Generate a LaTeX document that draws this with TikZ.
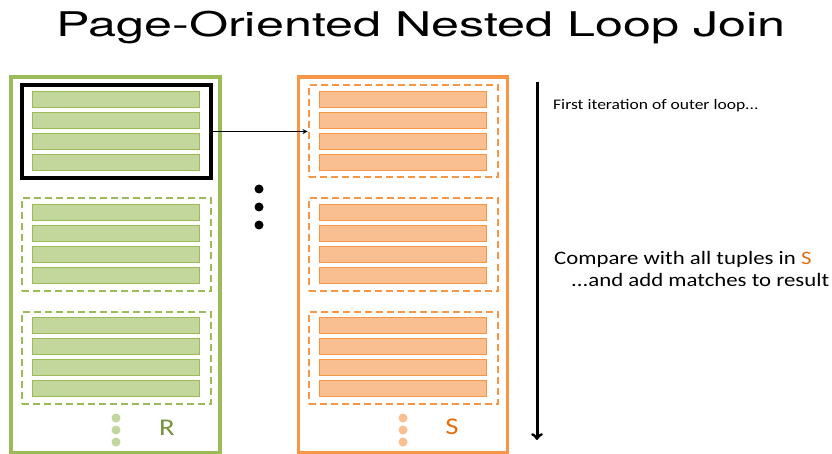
\documentclass[tikz,border=0pt]{standalone}
\usepackage{fontspec}
\setmainfont{Carlito}
\newfontfamily\titlefont[FakeStretch=1.48]{TeX Gyre Heros}
\newfontfamily\notefont[FakeStretch=1.2]{Carlito}
\usepackage{xcolor}
\usetikzlibrary{positioning}

\definecolor{rline}{HTML}{9BBB59}
\definecolor{rfill}{HTML}{C3D69B}
\definecolor{rtext}{HTML}{77933C}
\definecolor{sline}{HTML}{F79646}
\definecolor{sfill}{HTML}{F9BF90}
\definecolor{stext}{HTML}{E46C0A}

\tikzset{
  relation/.style={draw=#1, line width=3.5pt, inner sep=0pt,
    minimum width=209pt, minimum height=376pt},
  pagebox/.style={draw=#1, line width=2pt, inner sep=0pt,
    dash pattern=on 7pt off 4pt, minimum width=189pt, minimum height=92pt},
  tuplebar/.style={draw=#1, line width=1pt, inner sep=0pt,
    minimum width=167pt, minimum height=16pt},
  blob/.style={circle, fill=#1, inner sep=0pt, minimum size=9pt},
  note/.style={inner sep=0pt, anchor=base west}
}

\begin{document}
\begin{tikzpicture}[x=1pt, y=-1pt, >=stealth]
      \useasboundingbox (0,0) rectangle (832,454);
      \clip (0,0) rectangle (832,454);

      \node[font=\titlefont\fontsize{34}{40}\selectfont] (title) at (421,28) {Page-Oriented Nested Loop Join};

      % the two relations
      \node[relation=rline] (R) at (115.5,265) {};
      \node[relation=sline] (S) at (403,265) {};

      % pages of R and S
      \node[draw=black, line width=3.5pt, inner sep=0pt, minimum width=189pt, minimum height=93pt] (R1) at (116.5,131.5) {};
      \node[pagebox=rline] (R2) at (116.5,244.5) {};
      \node[pagebox=rline] (R3) at (116.5,357.5) {};
      \node[pagebox=sline] (S1) at (403,131.5) {};
      \node[pagebox=sline] (S2) at (403,244.5) {};
      \node[pagebox=sline] (S3) at (403,357.5) {};

      % tuples in each page
      \foreach \p/\y in {1/131.5, 2/244.5, 3/357.5}{
        \foreach \k/\d in {1/-32, 2/-11, 3/10, 4/31}{
          \node[tuplebar=rline, fill=rfill] (r\p\k) at (115.5,\y+\d) {};
          \node[tuplebar=sline, fill=sfill] (s\p\k) at (403,\y+\d) {};
        }
      }

      \draw[->, line width=1.2pt] (R1) -- (S1);

      % more pages
      \node[blob=black] (m1) at (259,189) {};
      \node[blob=black] (m2) at (259,207) {};
      \node[blob=black] (m3) at (259,225) {};

      \node[blob=rfill] (rd1) at (116,418) {};
      \node[blob=rfill] (rd2) at (116,430) {};
      \node[blob=rfill] (rd3) at (116,442) {};
      \node[blob=sfill] (sd1) at (403,418) {};
      \node[blob=sfill] (sd2) at (403,430) {};
      \node[blob=sfill] (sd3) at (403,442) {};

      \node[text=rtext, font=\notefont\fontsize{24}{24}\selectfont] (Rname) at (167,428) {R};
      \node[text=stext, font=\notefont\fontsize{24}{24}\selectfont] (Sname) at (452,427) {S};

      % outer loop
      \coordinate (loop1) at (537,82);
      \coordinate (loop2) at (537,440);
      \draw[-to, line width=3pt] (loop1) -- (loop2);

      \node[note, font=\notefont\fontsize{14.6}{18}\selectfont] (first) at (553,110) {First iteration of outer loop...};
      \node[note, font=\notefont\fontsize{19}{21}\selectfont] (compare) at (554,265) {Compare with all tuples in \textcolor{stext}{S}};
      \node[note, font=\notefont\fontsize{19}{21}\selectfont] (result) at (571,286) {...and add matches to result};

    \end{tikzpicture}
\end{document}
